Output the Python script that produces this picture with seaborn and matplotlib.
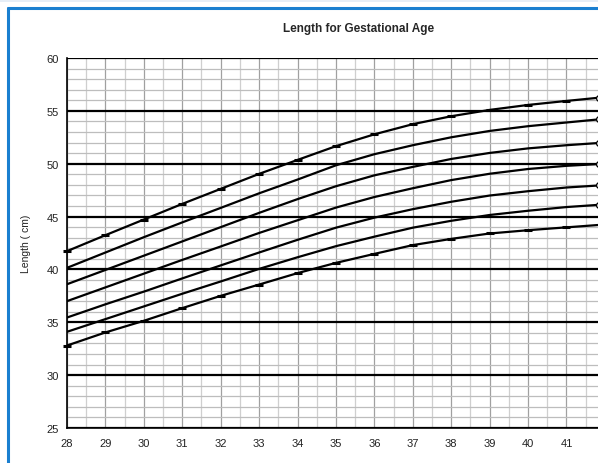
import matplotlib
matplotlib.use("Agg")
import matplotlib.pyplot as plt
from matplotlib.patches import Rectangle
from matplotlib.lines import Line2D
import numpy as np
import pandas as pd
import seaborn as sns

weeks = [28, 29, 30, 31, 32, 33, 34, 35, 36, 37, 38, 39, 40, 41, 42]
p97 = [41.73, 43.24, 44.72, 46.2, 47.62, 49.04, 50.36, 51.66, 52.78, 53.74, 54.49, 55.09, 55.56, 55.94, 56.3]
p90 = [40.15, 41.6, 43.05, 44.45, 45.82, 47.2, 48.5, 49.85, 50.9, 51.75, 52.5, 53.1, 53.55, 53.9, 54.25]
p75 = [38.6, 39.95, 41.3, 42.65, 44.0, 45.35, 46.65, 47.87, 48.9, 49.7, 50.45, 51.02, 51.45, 51.75, 52.0]
p50 = [37.0, 38.3, 39.6, 40.9, 42.17, 43.45, 44.65, 45.85, 46.85, 47.68, 48.45, 49.05, 49.5, 49.8, 50.0]
p25 = [35.45, 36.7, 37.9, 39.15, 40.38, 41.6, 42.8, 43.95, 44.9, 45.7, 46.4, 46.99, 47.4, 47.75, 47.98]
p10 = [34.1, 35.3, 36.5, 37.7, 38.86, 40.05, 41.15, 42.2, 43.1, 43.95, 44.6, 45.15, 45.55, 45.9, 46.15]
p3 = [32.8, 34.04, 35.14, 36.34, 37.5, 38.57, 39.65, 40.62, 41.47, 42.3, 42.89, 43.4, 43.71, 43.98, 44.25]

series = {"P97": p97, "P90": p90, "P75": p75, "P50": p50, "P25": p25, "P10": p10, "P3": p3}
x_ticks = [28, 29, 30, 31, 32, 33, 34, 35, 36, 37, 38, 39, 40, 41]
y_ticks = [25, 30, 35, 40, 45, 50, 55, 60]
title = "Length for Gestational Age"
ylabel = "Length ( cm)"

rows = []
for name, vals in series.items():
    for w, v in zip(weeks, vals):
        rows.append({"week": w, "length": v, "curve": name})
df = pd.DataFrame(rows)

sns.set_style("white")
plt.rcParams["font.family"] = ["Liberation Sans", "DejaVu Sans"]

W, H = 598, 464
fig = plt.figure(figsize=(W / 100, H / 100), dpi=100)
fig.patch.set_facecolor("white")

# blue frame
fig.add_artist(Rectangle((0, 1 - 3 / H), 1, 3 / H, transform=fig.transFigure,
                         facecolor="#e6eef7", edgecolor="none"))
fig.add_artist(Line2D([8 / W, 8 / W], [0, 1 - 9 / H], transform=fig.transFigure,
                      color="#1a7fd0", lw=2.2))
fig.add_artist(Line2D([8 / W, 1], [1 - 9 / H, 1 - 9 / H], transform=fig.transFigure,
                      color="#1a7fd0", lw=2.2))

x0, x1 = 28, 41.82
ax = fig.add_axes([67 / W, 1 - 429 / H, (W - 67) / W, (429 - 59) / H])
ax.set_xlim(x0, x1)
ax.set_ylim(25, 60)

# grid
for xv in np.arange(28, 42.01, 0.5):
    if abs(xv - round(xv)) < 1e-6:
        ax.axvline(xv, color="#a0a0a0", lw=0.9, zorder=0)
    else:
        ax.axvline(xv, color="#cfcfcf", lw=0.9, zorder=0)
for yv in range(25, 61):
    if yv % 5 == 0:
        ax.axhline(yv, color="black", lw=1.6, zorder=1)
    else:
        ax.axhline(yv, color="#bdbdbd", lw=0.9, zorder=0)

sns.lineplot(data=df, x="week", y="length", hue="curve",
             palette={k: "black" for k in series}, legend=False,
             lw=1.6, ax=ax, zorder=3)

# week markers on outer curves
ax.plot(weeks, p97, ls="none", marker="_", ms=6, mew=2.2, color="black", zorder=4, clip_on=False)
ax.plot(weeks, p3, ls="none", marker="_", ms=6, mew=2.2, color="black", zorder=4, clip_on=False)

# end circles (cut at the figure edge)
xc = 41.855
for name in ["P97", "P90", "P75", "P50", "P25", "P10"]:
    vals = series[name]
    yend = np.interp(xc, weeks, vals)
    ax.plot([xc], [yend], marker="o", ms=4.2, mfc="white", mec="black", mew=0.9,
            zorder=5, clip_on=False)

for s in ["top", "right"]:
    ax.spines[s].set_visible(False)
ax.spines["left"].set_color("black")
ax.spines["bottom"].set_color("black")
ax.spines["left"].set_linewidth(1.2)
ax.spines["bottom"].set_linewidth(1.2)

ax.set_xticks(x_ticks)
ax.set_yticks(y_ticks)
ax.set_xticklabels([str(t) for t in x_ticks])
ax.set_yticklabels([str(t) for t in y_ticks])
ax.tick_params(axis="both", labelsize=8, length=3, width=0.8, color="black", pad=3,
               labelcolor="#222222")
ax.tick_params(axis="x", pad=4)
ax.set_xlabel("")
ax.set_ylabel(ylabel, fontsize=7.5, labelpad=11, color="#222222")

fig.text(359 / W, 1 - 29 / H, title, ha="center", va="center", fontsize=8.5, fontweight="bold")

fig.savefig("out.png", dpi=100)
